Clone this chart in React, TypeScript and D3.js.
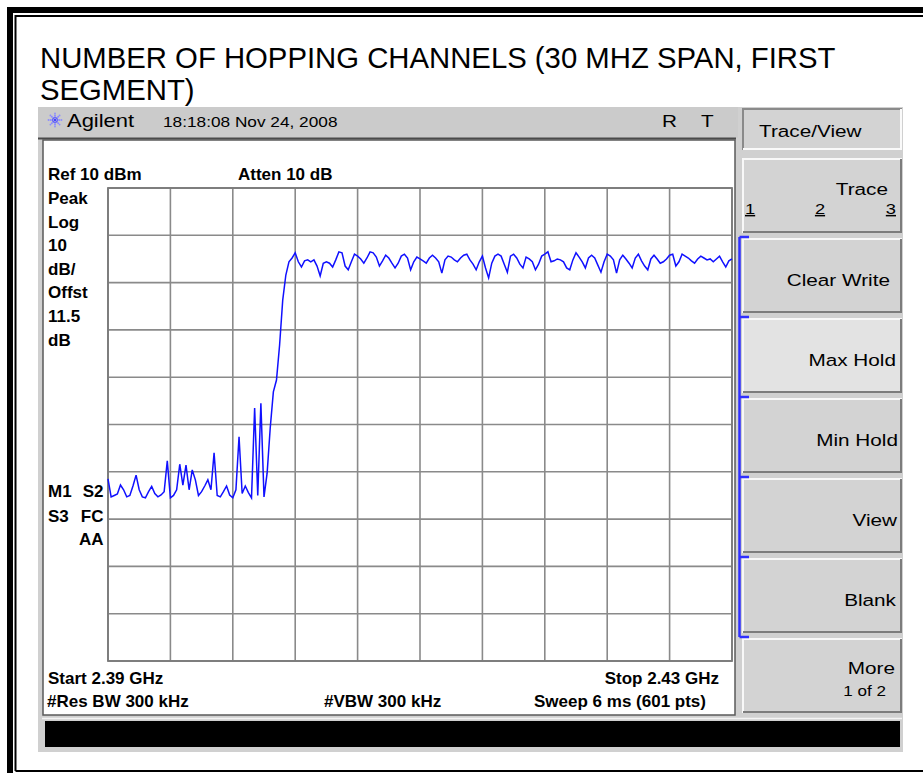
import React from 'react';
import * as d3 from 'd3';

// ---------- data ----------
const START_MHZ = 2390;
const STOP_MHZ = 2430;
const STEP_MHZ = 0.2;
const GRID_FREQS = [2390, 2394, 2398, 2402, 2406, 2410, 2414, 2418, 2422, 2426, 2430];
const GRID_LEVELS = [10, 0, -10, -20, -30, -40, -50, -60, -70, -80, -90];

// trace amplitude in dBm, one value per 0.2 MHz from 2390 MHz
const TRACE_DBM = [
  -51.5, -55.3, -55.0, -54.7, -52.8, -53.8, -55.3, -55.0, -53.0, -50.7,
  -53.8, -55.3, -55.5, -54.2, -53.1, -54.6, -55.3, -54.9, -54.2, -47.7,
  -55.5, -55.0, -53.8, -48.4, -52.8, -48.6, -53.8, -49.6, -51.7, -55.0,
  -54.2, -53.0, -51.7, -53.8, -46.0, -55.0, -55.3, -54.2, -53.0, -54.9,
  -55.5, -53.8, -42.6, -54.6, -53.0, -54.4, -55.5, -36.5, -55.0, -35.5,
  -55.3, -50.3, -40.7, -33.1, -30.6, -23.2, -13.7, -8.4, -5.6, -4.8,
  -3.7, -5.6, -6.7, -5.4, -5.2, -5.6, -5.2, -6.5, -8.6, -5.9,
  -5.6, -5.9, -6.7, -5.2, -3.5, -3.7, -6.5, -7.3, -5.6, -4.0,
  -4.4, -5.0, -5.9, -4.8, -3.5, -3.7, -4.6, -6.5, -5.4, -4.2,
  -4.8, -5.9, -6.9, -5.9, -4.4, -4.0, -4.8, -7.3, -5.6, -4.6,
  -5.0, -5.4, -5.9, -4.8, -4.2, -4.8, -5.6, -8.0, -5.2, -4.4,
  -4.6, -5.2, -5.6, -4.8, -4.2, -4.0, -5.2, -6.1, -7.3, -5.6,
  -4.4, -6.9, -9.0, -5.9, -4.4, -4.0, -4.4, -6.1, -7.8, -4.4,
  -4.0, -4.8, -6.1, -6.9, -4.6, -5.0, -5.6, -7.3, -6.1, -4.4,
  -4.0, -3.5, -5.6, -5.4, -5.0, -5.2, -5.6, -6.9, -7.3, -5.2,
  -3.7, -4.6, -5.6, -6.9, -4.8, -4.2, -4.8, -6.3, -7.8, -5.6,
  -4.0, -4.4, -5.2, -8.0, -5.2, -4.2, -5.0, -5.9, -6.9, -4.8,
  -4.0, -5.4, -6.5, -7.3, -5.0, -4.2, -5.0, -5.9, -5.6, -5.0,
  -4.2, -4.0, -6.5, -5.6, -4.0, -4.4, -4.8, -5.4, -5.9, -5.0,
  -4.4, -4.8, -5.2, -5.0, -5.6, -5.0, -4.4, -5.6, -6.7, -5.4,
  -5.0,
];

const TITLE_LINES = ['NUMBER OF HOPPING CHANNELS (30 MHZ SPAN, FIRST', 'SEGMENT)'];
const LEFT_LABELS = ['Peak', 'Log', '10', 'dB/', 'Offst', '11.5', 'dB'];
const SOFTKEYS = ['Trace', 'Clear Write', 'Max Hold', 'Min Hold', 'View', 'Blank', 'More'];

const FONT = 'Liberation Sans, Arial, Helvetica, sans-serif';

type STProps = {
  x: number; y: number; size?: number; sx?: number; anchor?: string;
  weight?: string; fill?: string; deco?: string; children: React.ReactNode;
};
function ST({ x, y, size = 17, sx = 1.22, anchor = 'start', weight = 'normal', fill = '#000', deco, children }: STProps) {
  return (
    <text
      transform={`translate(${x},${y}) scale(${sx},1)`}
      fontFamily={FONT}
      fontSize={size}
      fontWeight={weight}
      textAnchor={anchor as any}
      fill={fill}
      style={deco ? { textDecoration: deco } : undefined}
    >
      {children}
    </text>
  );
}

function Key({ x, y, w, h, fill }: { x: number; y: number; w: number; h: number; fill: string }) {
  return (
    <g>
      <rect x={x} y={y} width={w} height={h} fill={fill} />
      <path d={`M${x + 1},${y + h} V${y + 1} H${x + w}`} stroke="#f8f8f8" strokeWidth={2} fill="none" />
      <path d={`M${x + 1},${y + h - 1} H${x + w - 1} V${y + 1}`} stroke="#7c7c7c" strokeWidth={2} fill="none" />
    </g>
  );
}

export default function App() {
  const W = 923;
  const H = 773;
  const plotL = 108, plotR = 732, plotT = 188, plotB = 661;

  const x = d3.scaleLinear().domain([START_MHZ, STOP_MHZ]).range([plotL, plotR]);
  const y = d3.scaleLinear().domain([GRID_LEVELS[GRID_LEVELS.length - 1], GRID_LEVELS[0]]).range([plotB, plotT]);

  const line = d3.line<number>()
    .x((_, i) => x(START_MHZ + i * STEP_MHZ))
    .y((d) => y(d));
  const tracePath = line(TRACE_DBM) || '';

  // Agilent logo spokes
  const logoCx = 55, logoCy = 120;
  const spokes = d3.range(8).map((k) => (k * Math.PI) / 4);

  const keyX = 742, keyW = 160, keyH = 75;
  const keyTops = SOFTKEYS.map((_, i) => 158 + i * 80);
  const keyRight = [888, 890, 896, 898, 897, 896, 895];

  return (
    <svg
      width={W}
      height={H}
      viewBox={`0 0 ${W} ${H}`}
      style={{ position: 'absolute', left: 0, top: 0, background: '#fff' }}
    >
      <rect x={0} y={0} width={W} height={H} fill="#fff" />
      {/* double page border */}
      <path d={`M10,${H} V10 H${W}`} stroke="#000" strokeWidth={6} fill="none" />
      <path d={`M15.5,771 V16 H${W}`} stroke="#000" strokeWidth={2} fill="none" />
      <path d={`M15.5,771 H${W}`} stroke="#000" strokeWidth={2} fill="none" />

      {/* title */}
      {TITLE_LINES.map((t, i) => (
        <text key={i} x={40} y={68 + i * 32} fontFamily={FONT} fontSize={29.3} fill="#000">
          {t}
        </text>
      ))}

      {/* instrument screenshot background */}
      <rect x={38} y={107} width={865} height={645} fill="#d0d0d0" />
      <rect x={38} y={107} width={700} height={31} fill="#cbcbcb" />
      <line x1={38} x2={736} y1={138.5} y2={138.5} stroke="#4a4a4a" strokeWidth={2} />

      {/* header */}
      <g>
        {spokes.map((a, k) => (
          <g key={k}>
            {[2.5, 4.5, 6.5].map((r, j) => (
              <circle
                key={j}
                cx={logoCx + Math.cos(a) * r}
                cy={logoCy + Math.sin(a) * r}
                r={j === 2 ? 0.9 : 1}
                fill={j === 0 ? '#6060ff' : '#8c8cff'}
              />
            ))}
          </g>
        ))}
        <circle cx={logoCx} cy={logoCy} r={1.2} fill="#4040ff" />
      </g>
      <ST x={67} y={127} size={18} sx={1.22}>Agilent</ST>
      <ST x={163} y={127} size={15} sx={1.15}>18:18:08  Nov 24, 2008</ST>
      <ST x={662} y={127} size={17}>R</ST>
      <ST x={701} y={127} size={17}>T</ST>

      {/* screen */}
      <rect x={43} y={140} width={692} height={575} fill="#fff" stroke="#5a5a5a" strokeWidth={1.5} />

      {/* grid */}
      <g stroke="#8a8a8a" strokeWidth={1.6}>
        {GRID_FREQS.map((f) => (
          <line key={'v' + f} x1={x(f)} x2={x(f)} y1={plotT} y2={plotB} />
        ))}
        {GRID_LEVELS.map((l) => (
          <line key={'h' + l} x1={plotL} x2={plotR} y1={y(l)} y2={y(l)} />
        ))}
      </g>
      <rect x={plotL} y={plotT} width={plotR - plotL} height={plotB - plotT} fill="none" stroke="#7a7a7a" strokeWidth={1.8} />

      {/* trace */}
      <path d={tracePath} fill="none" stroke="#1010ff" strokeWidth={1.5} strokeLinejoin="miter" />

      {/* screen annotations */}
      <ST x={48} y={180} size={17} sx={1} weight="bold">Ref 10 dBm</ST>
      <ST x={238} y={180} size={17} sx={1} weight="bold">Atten 10 dB</ST>
      {LEFT_LABELS.map((t, i) => (
        <ST key={t + i} x={48} y={204 + i * 23.6} size={17} sx={1} weight="bold">{t}</ST>
      ))}
      <ST x={48} y={497} size={17} sx={1} weight="bold">M1</ST>
      <ST x={103.5} y={497} size={17} sx={1} weight="bold" anchor="end">S2</ST>
      <ST x={48} y={521.5} size={17} sx={1} weight="bold">S3</ST>
      <ST x={103.5} y={521.5} size={17} sx={1} weight="bold" anchor="end">FC</ST>
      <ST x={103.5} y={545} size={17} sx={1} weight="bold" anchor="end">AA</ST>

      <ST x={48} y={684} size={17} sx={1} weight="bold">Start 2.39 GHz</ST>
      <ST x={719} y={684} size={17} sx={1} weight="bold" anchor="end">Stop 2.43 GHz</ST>
      <ST x={47} y={707} size={17} sx={1} weight="bold">#Res BW 300 kHz</ST>
      <ST x={324} y={707} size={17} sx={1} weight="bold">#VBW 300 kHz</ST>
      <ST x={706} y={707} size={17} sx={1} weight="bold" anchor="end">Sweep 6 ms (601 pts)</ST>

      {/* status bar */}
      <line x1={42} x2={902} y1={718.5} y2={718.5} stroke="#f4f4f4" strokeWidth={1.5} />
      <rect x={45} y={721} width={855} height={26} fill="#000" />

      {/* softkey panel */}
      <rect x={keyX} y={108} width={keyW} height={42} fill="#d3d3d3" />
      <path d={`M${keyX + 1},150 V109 H${keyX + keyW}`} stroke="#8a8a8a" strokeWidth={2} fill="none" />
      <path d={`M${keyX + 1},149 H${keyX + keyW - 1} V109`} stroke="#fafafa" strokeWidth={2} fill="none" />
      <ST x={759} y={137} size={17}>Trace/View</ST>

      {SOFTKEYS.map((label, i) => (
        <Key key={label} x={keyX} y={keyTops[i]} w={keyW} h={keyH} fill={label === 'Max Hold' ? '#e3e3e3' : '#d3d3d3'} />
      ))}
      {/* Trace key */}
      <ST x={keyRight[0]} y={keyTops[0] + 37} size={17} anchor="end">{SOFTKEYS[0]}</ST>
      <ST x={745} y={keyTops[0] + 56} size={15} deco="underline">1</ST>
      <ST x={820} y={keyTops[0] + 56} size={15} anchor="middle" deco="underline">2</ST>
      <ST x={896} y={keyTops[0] + 56} size={15} anchor="end" deco="underline">3</ST>
      {SOFTKEYS.slice(1, 6).map((label, i) => (
        <ST key={label} x={keyRight[i + 1]} y={keyTops[i + 1] + 48} size={17} anchor="end">{label}</ST>
      ))}
      <ST x={keyRight[6]} y={keyTops[6] + 36} size={17} anchor="end">{SOFTKEYS[6]}</ST>
      <ST x={886} y={keyTops[6] + 58} size={14} anchor="end">1 of 2</ST>

      {/* blue bracket */}
      <g stroke="#2f2fff" strokeWidth={2.5} fill="none">
        <line x1={739.5} x2={739.5} y1={237} y2={637} />
        {[1, 2, 3, 4, 5].map((i) => (
          <line key={i} x1={739.5} x2={749} y1={keyTops[i] - 1} y2={keyTops[i] - 1} />
        ))}
        <line x1={739.5} x2={749} y1={637} y2={637} />
      </g>
    </svg>
  );
}
